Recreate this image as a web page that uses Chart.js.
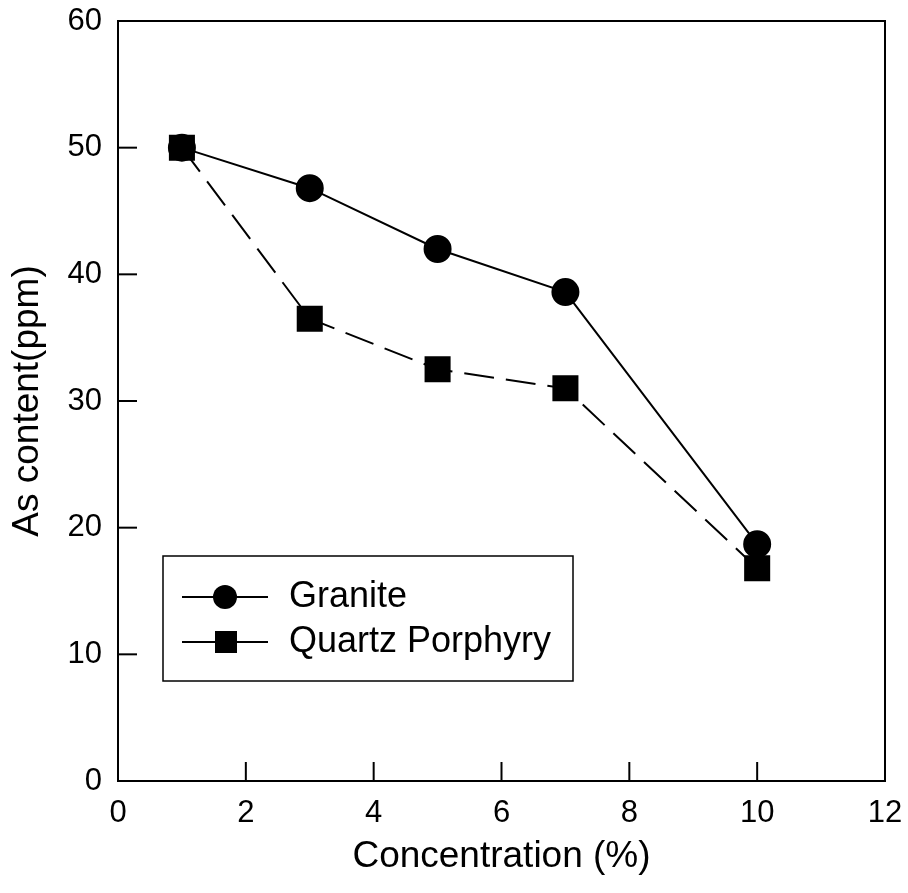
<!DOCTYPE html>
<html>
<head>
<meta charset="utf-8">
<script src="https://cdn.jsdelivr.net/npm/chart.js@4/dist/chart.umd.min.js"></script>
<style>
  html, body { margin: 0; padding: 0; background: #fff; }
  #wrap { width: 908px; height: 893px; }
</style>
</head>
<body>
<div id="wrap"><canvas id="chart" width="908" height="893"></canvas></div>
<script>
// Data
const concentration = [1, 3, 5, 7, 10];
const graniteValues = [50, 46.8, 42, 38.6, 18.7];
const quartzValues = [50, 36.5, 32.5, 31, 16.8];
const seriesNames = ['Granite', 'Quartz Porphyry'];
const xTitle = 'Concentration (%)';
const yTitle = 'As content(ppm)';

const FONT = '"Liberation Sans", Arial, sans-serif';

// frame + inward ticks
const framePlugin = {
    id: 'frame',
    afterDraw(chart) {
        const { ctx, chartArea: a, scales } = chart;
        ctx.save();
        ctx.strokeStyle = '#000';
        ctx.lineWidth = 2;
        ctx.strokeRect(a.left, a.top, a.right - a.left, a.bottom - a.top);
        scales.x.ticks.forEach(t => {
            if (t.value <= scales.x.min || t.value >= scales.x.max) return;
            const px = scales.x.getPixelForValue(t.value);
            ctx.beginPath();
            ctx.moveTo(px, a.bottom);
            ctx.lineTo(px, a.bottom - 19);
            ctx.stroke();
        });
        scales.y.ticks.forEach(t => {
            if (t.value <= scales.y.min || t.value >= scales.y.max) return;
            const py = scales.y.getPixelForValue(t.value);
            ctx.beginPath();
            ctx.moveTo(a.left, py);
            ctx.lineTo(a.left + 19, py);
            ctx.stroke();
        });
        ctx.restore();
    }
};

// legend box inside the plot
const legendPlugin = {
    id: 'boxLegend',
    afterDraw(chart) {
        const { ctx } = chart;
        ctx.save();
        ctx.strokeStyle = '#000';
        ctx.lineWidth = 1.5;
        ctx.strokeRect(163, 556, 410, 125);
        const rows = [597, 642];
        chart.data.datasets.forEach((ds, i) => {
            const y = rows[i];
            ctx.lineWidth = 2;
            ctx.beginPath();
            ctx.moveTo(182, y);
            ctx.lineTo(268, y);
            ctx.stroke();
            ctx.fillStyle = '#000';
            if (ds.pointStyle === 'circle') {
                ctx.beginPath();
                ctx.arc(225, y, 12, 0, Math.PI * 2);
                ctx.fill();
            } else {
                ctx.fillRect(215, y - 11, 22, 22);
            }
            ctx.font = '36px ' + FONT;
            ctx.textBaseline = 'middle';
            ctx.textAlign = 'left';
            ctx.fillText(ds.label, 289, y);
        });
        ctx.restore();
    }
};

new Chart(document.getElementById('chart'), {
    type: 'scatter',
    data: {
        datasets: [
            {
                label: seriesNames[0],
                data: concentration.map((x, i) => ({ x, y: graniteValues[i] })),
                showLine: true,
                borderColor: '#000',
                borderWidth: 2,
                backgroundColor: '#000',
                pointStyle: 'circle',
                pointRadius: 13,
                pointHoverRadius: 13
            },
            {
                label: seriesNames[1],
                data: concentration.map((x, i) => ({ x, y: quartzValues[i] })),
                showLine: true,
                borderColor: '#000',
                borderWidth: 2,
                borderDash: [30, 12],
                backgroundColor: '#000',
                pointStyle: 'rect',
                pointRadius: 17,
                pointHoverRadius: 17
            }
        ]
    },
    options: {
        responsive: false,
        animation: false,
        layout: { padding: { top: 21, right: 23, left: 0, bottom: 0 } },
        plugins: {
            legend: { display: false },
            tooltip: { enabled: false }
        },
        scales: {
            x: {
                type: 'linear',
                min: 0,
                max: 12,
                ticks: {
                    stepSize: 2,
                    color: '#000',
                    padding: 14,
                    font: { family: FONT, size: 31 }
                },
                grid: { display: false, drawTicks: false },
                border: { display: false },
                title: {
                    display: true,
                    text: xTitle,
                    color: '#000',
                    font: { family: FONT, size: 37 },
                    padding: { top: 14, bottom: 14 }
                },
                afterFit: s => {
                    s.height = 112;
                    s.paddingLeft = 0;
                    s.paddingRight = 0;
                }
            },
            y: {
                type: 'linear',
                min: 0,
                max: 60,
                ticks: {
                    stepSize: 10,
                    color: '#000',
                    padding: 16,
                    font: { family: FONT, size: 31 }
                },
                grid: { display: false, drawTicks: false },
                border: { display: false },
                title: {
                    display: true,
                    text: yTitle,
                    color: '#000',
                    font: { family: FONT, size: 37 },
                    padding: { top: 6, bottom: 6 }
                },
                afterFit: s => {
                    s.width = 118;
                    s.paddingTop = 0;
                    s.paddingBottom = 0;
                }
            }
        }
    },
    plugins: [framePlugin, legendPlugin]
});
</script>
</body>
</html>
